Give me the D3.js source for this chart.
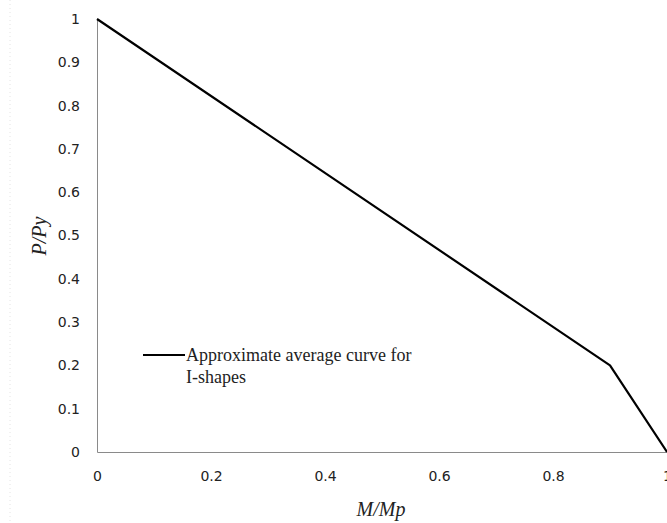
<!DOCTYPE html>
<html>
<head>
<meta charset="utf-8">
<script src="https://cdn.jsdelivr.net/npm/d3@7"></script>
<style>
  body { margin: 0; background: #fff; }
</style>
</head>
<body>
<div id="chart"></div>
<script>
// data
var mRatio = [0, 0.9, 1];
var pRatio = [1, 0.2, 0];
var xTicks = [0, 0.2, 0.4, 0.6, 0.8, 1];
var yTicks = [0, 0.1, 0.2, 0.3, 0.4, 0.5, 0.6, 0.7, 0.8, 0.9, 1];
var legendLines = ["Approximate average curve for", "I-shapes"];

var W = 667, H = 523;
var margin = {top: 19, right: 0, bottom: 71, left: 97},
    width = W - margin.left - margin.right,
    height = H - margin.top - margin.bottom;

var svg = d3.select("#chart")
  .append("svg")
    .attr("width", W)
    .attr("height", H);

// faint dotted border on the left, as in the scan
svg.append("line")
  .attr("x1", 10).attr("x2", 10)
  .attr("y1", 0).attr("y2", H)
  .style("stroke", "#e4e4e4")
  .style("stroke-dasharray", "1,3");

var g = svg.append("g")
  .attr("transform", "translate(" + margin.left + "," + margin.top + ")");

var x = d3.scaleLinear().domain([0, 1]).range([0, width]);
var y = d3.scaleLinear().domain([0, 1]).range([height, 0]);

var fmt = function(d) { return String(+d.toFixed(1)); };

// X axis
var xAxis = g.append("g")
  .attr("transform", "translate(0," + height + ")")
  .call(d3.axisBottom(x).tickValues(xTicks).tickSize(0).tickPadding(19).tickFormat(fmt));
xAxis.select(".domain").style("stroke", "#8a8a8a");
xAxis.selectAll("text")
  .style("font-family", "DejaVu Sans, Verdana, sans-serif")
  .style("font-size", "14px")
  .style("fill", "#222");

// Y axis
var yAxis = g.append("g")
  .call(d3.axisLeft(y).tickValues(yTicks).tickSize(0).tickPadding(17).tickFormat(fmt));
yAxis.select(".domain").style("stroke", "#8a8a8a");
yAxis.selectAll("text")
  .style("font-family", "DejaVu Sans, Verdana, sans-serif")
  .style("font-size", "14px")
  .style("fill", "#222");

// axis titles
svg.append("text")
  .attr("x", 381)
  .attr("y", 516)
  .attr("text-anchor", "middle")
  .style("font-family", "Liberation Serif, Times New Roman, serif")
  .style("font-style", "italic")
  .style("font-size", "20px")
  .style("fill", "#222")
  .text("M/Mp");

svg.append("text")
  .attr("transform", "translate(46,236) rotate(-90)")
  .attr("text-anchor", "middle")
  .style("font-family", "Liberation Serif, Times New Roman, serif")
  .style("font-style", "italic")
  .style("font-size", "20px")
  .style("fill", "#222")
  .text("P/Py");

// the curve
var line = d3.line()
  .x(function(d, i) { return x(mRatio[i]); })
  .y(function(d, i) { return y(pRatio[i]); });

g.append("path")
  .datum(mRatio)
  .attr("d", line)
  .style("fill", "none")
  .style("stroke", "#000")
  .style("stroke-width", 2.2)
  .style("stroke-linejoin", "round");

// legend
var legend = svg.append("g").attr("transform", "translate(143,355)");
legend.append("line")
  .attr("x1", 0).attr("x2", 42)
  .attr("y1", 0).attr("y2", 0)
  .style("stroke", "#000")
  .style("stroke-width", 2.2);
legend.selectAll("text")
  .data(legendLines)
  .enter()
  .append("text")
    .attr("x", 43)
    .attr("y", function(d, i) { return 6 + i * 22; })
    .style("font-family", "Liberation Serif, Times New Roman, serif")
    .style("font-size", "18px")
    .style("fill", "#222")
    .text(function(d) { return d; });
</script>
</body>
</html>
